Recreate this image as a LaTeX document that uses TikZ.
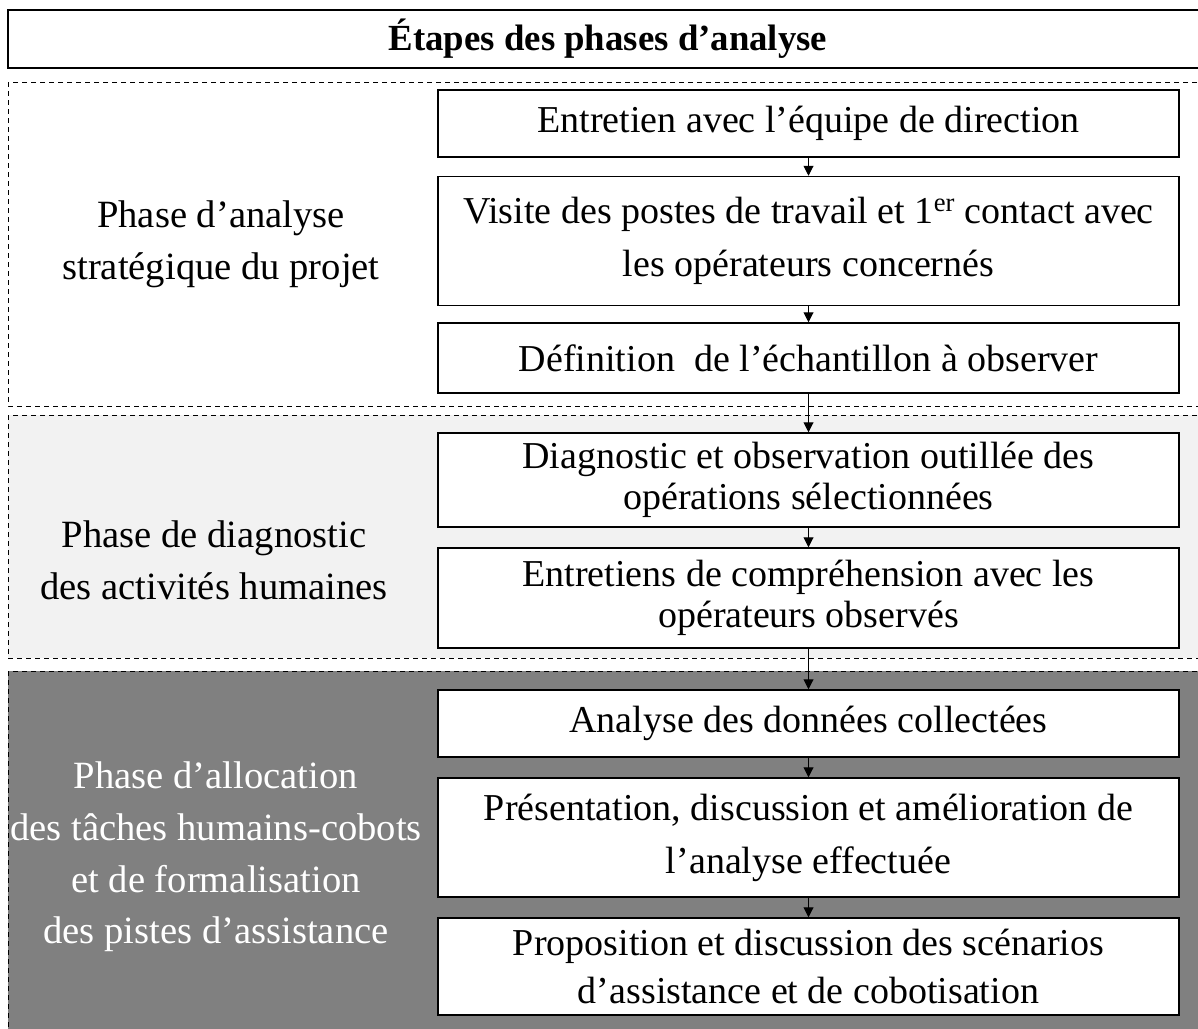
\documentclass[tikz,border=0pt]{standalone}
\usepackage{fontspec}
\setmainfont{Liberation Serif}
\usepackage{xcolor}
\usetikzlibrary{positioning,arrows.meta}

\definecolor{gris clair}{gray}{0.95}
\definecolor{gris fonce}{gray}{0.5}

\tikzset{
  etape/.style={draw, fill=white, line width=0.75pt, minimum width=370.5pt, align=center,
    inner sep=0pt, font=\fontsize{19}{26.5}\selectfont},
  serre/.style={font=\fontsize{19}{20.5}\selectfont},
  phase/.style={draw, dashed, dash pattern=on 2.5pt off 2pt, line width=0.5pt},
  libelle/.style={align=center, font=\fontsize{19.3}{25.8}\selectfont},
  fleche/.style={-{Triangle[width=5pt,length=5pt]}, line width=0.5pt}
}

\begin{document}
\begin{tikzpicture}[x=0.5pt, y=-0.5pt]
    \useasboundingbox (0,0) rectangle (1198,1028);
    \clip (0,0) rectangle (1198,1028);

    %titre
    \node[draw, line width=0.75pt, minimum width=600pt, minimum height=29pt, inner sep=0pt,
      font=\fontsize{18.4}{22}\bfseries] (titre) at (608,39) {Étapes des phases d’analyse};

    %zones des phases
    \draw[phase] (8,82) rectangle (1210,406);
    \draw[phase, fill=gris clair] (8,415) rectangle (1210,658);
    \draw[phase, fill=gris fonce] (8,671) rectangle (1210,1040);

    \node[libelle] (p1) at (221,244) {Phase d’analyse\\stratégique du projet};
    \node[libelle] (p2) at (214,560) {Phase de diagnostic\\des activités humaines};
    \node[libelle, text=white] (p3) at (216,857) {Phase d’allocation\\des tâches humains-cobots\\et de formalisation\\des pistes d’assistance};

    %etapes
    \node[etape, minimum height=33.5pt] (e1) at (808.5,123.5) {Entretien avec l’équipe de direction};
    \node[etape, minimum height=64.5pt] (e2) at (808.5,241) {Visite des postes de travail et 1\textsuperscript{er} contact avec\\les opérateurs concernés};
    \node[etape, minimum height=35pt] (e3) at (808.5,358) {Définition\ \ de l’échantillon à observer};
    \node[etape, serre, minimum height=47pt] (e4) at (808.5,480) {Diagnostic et observation outillée des\\opérations sélectionnées};
    \node[etape, serre, minimum height=50pt] (e5) at (808.5,598) {Entretiens de compréhension avec les\\opérateurs observés};
    \node[etape, minimum height=33.5pt] (e6) at (808.5,723.5) {Analyse des données collectées};
    \node[etape, minimum height=59.5pt] (e7) at (808.5,837.5) {Présentation, discussion et amélioration de\\l’analyse effectuée};
    \node[etape, minimum height=48.5pt, font=\fontsize{19}{24}\selectfont] (e8) at (808.5,966.5) {Proposition et discussion des scénarios\\d’assistance et de cobotisation};

    \foreach \a/\b in {e1/e2, e2/e3, e3/e4, e4/e5, e5/e6, e6/e7, e7/e8}
      \draw[fleche] (\a) -- (\b);
\end{tikzpicture}
\end{document}
